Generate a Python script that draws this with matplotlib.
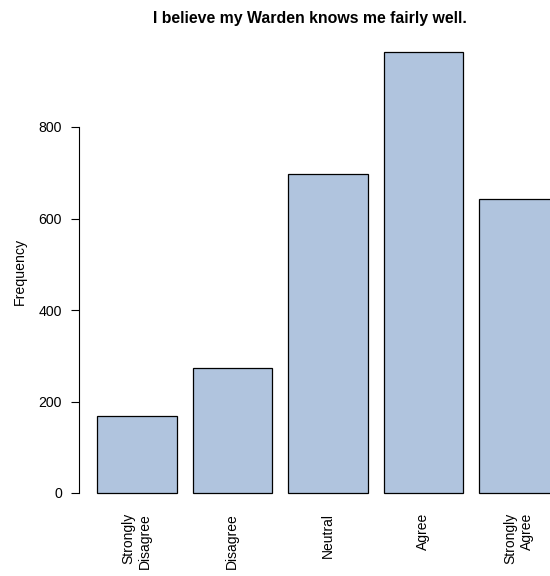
import matplotlib.pyplot as plt

plt.rcParams["font.family"] = ["Liberation Sans", "DejaVu Sans"]

# data
categories = ["Strongly\nDisagree", "Disagree", "Neutral", "Agree", "Strongly\nAgree"]
counts = [168, 273, 697, 964, 643]
y_ticks = [0, 200, 400, 600, 800]

W, H = 550, 576
fig = plt.figure(figsize=(W / 100, H / 100), dpi=100)

# R barplot style layout: width 1, space 0.2
px_per_unit = 79.6
x0_px = 79
x_left = 0.2 - (97 - x0_px) / px_per_unit
x_right = x_left + (W - x0_px) / px_per_unit
y_bottom_px, y_scale = 493, 0.4575
y_top_val = 1000
ax = fig.add_axes([x0_px / W, (H - y_bottom_px) / H,
                   (W - x0_px) / W, y_top_val * y_scale / H])

lefts = [0.2 + i * 1.2 for i in range(len(counts))]
centers = [l + 0.5 for l in lefts]
ax.bar(lefts, counts, width=1.0, align="edge", color="#B0C4DE",
       edgecolor="black", linewidth=0.9, clip_on=False)

ax.set_xlim(x_left, x_right)
ax.set_ylim(0, y_top_val)

for s in ["top", "right", "bottom"]:
    ax.spines[s].set_visible(False)
ax.spines["left"].set_bounds(0, 800)
ax.spines["left"].set_linewidth(0.8)

ax.set_yticks(y_ticks)
ax.set_yticklabels([str(t) for t in y_ticks], fontsize=10.2)
ax.tick_params(axis="y", length=6, width=0.8, pad=6.3)
ax.set_xticks([])

for c, lab in zip(centers, categories):
    ax.text(c, -44, lab, rotation=90, ha="center", va="top",
            multialignment="right", fontsize=10)

fig.text(20 / W, 1 - 271 / H, "Frequency", rotation=90,
         ha="center", va="center", fontsize=10.2)
fig.text(310 / W, 1 - 18 / H, "I believe my Warden knows me fairly well.",
         ha="center", va="center", fontsize=11.4, fontweight="bold")

fig.savefig("out.png", dpi=100)
